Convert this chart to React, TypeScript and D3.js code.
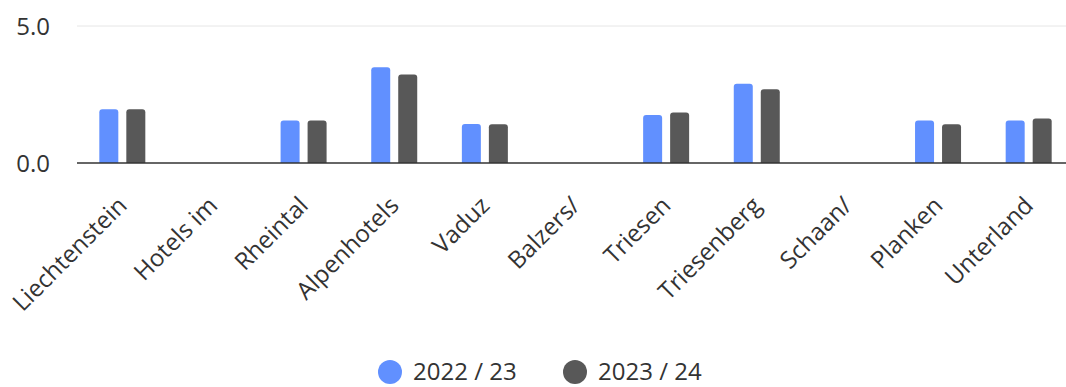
import React from "react";
import * as d3 from "d3";

const categories = [
  "Liechtenstein", "Hotels im", "Rheintal", "Alpenhotels", "Vaduz", "Balzers/",
  "Triesen", "Triesenberg", "Schaan/", "Planken", "Unterland",
];
const series2223 = [1.96, null, 1.55, 3.49, 1.42, null, 1.75, 2.89, null, 1.55, 1.55];
const series2324 = [1.96, null, 1.55, 3.23, 1.41, null, 1.84, 2.69, null, 1.41, 1.62];
const seriesNames = ["2022 / 23", "2023 / 24"];
const yTicks = [0, 5];

const colors = ["#6190ff", "#585858"];
const font = "'Open Sans', 'Noto Sans', sans-serif";

const W = 1066;
const H = 387;

// rounded top bar path
function barPath(x: number, y: number, w: number, h: number, r: number) {
  const rr = Math.min(r, h, w / 2);
  return `M${x},${y + h}V${y + rr}Q${x},${y} ${x + rr},${y}H${x + w - rr}Q${x + w},${y} ${x + w},${y + rr}V${y + h}Z`;
}

export default function App() {
  const x = d3.scaleBand().domain(categories).range([77, 1074]);
  const y = d3.scaleLinear().domain([0, 5]).range([163, 26]);
  const series = [series2223, series2324];
  const barW = 19;
  const gap = 8;

  return (
    <svg width={W} height={H} style={{ display: "block", position: "absolute", left: 0, top: 0, overflow: "hidden" }}>
      <rect width={W} height={H} fill="#fff" />
      <line x1={77} x2={W} y1={y(5)} y2={y(5)} stroke="#e6e6e6" strokeWidth={1} />
      {yTicks.map((t) => (
        <text key={t} x={50} y={y(t)} dy="0.36em" textAnchor="end" fontFamily={font} fontSize={24} fill="#333">
          {t.toFixed(1)}
        </text>
      ))}
      {categories.map((c, i) => {
        const cx = x(c)! + x.bandwidth() / 2;
        return (
          <g key={c}>
            {series.map((s, k) => {
              const v = s[i];
              if (v == null) return null;
              const bx = cx - gap / 2 - barW + k * (barW + gap);
              return <path key={k} d={barPath(bx, y(v), barW, y(0) - y(v), 3)} fill={colors[k]} />;
            })}
            <text
              transform={`translate(${cx + 6},${y(0) + 44}) rotate(-45)`}
              textAnchor="end"
              fontFamily={font}
              fontSize={24}
              fill="#333"
            >
              {c}
            </text>
          </g>
        );
      })}
      <line x1={77} x2={W} y1={y(0)} y2={y(0)} stroke="#333" strokeWidth={1.5} />
      {seriesNames.map((n, k) => (
        <g key={n} transform={`translate(${k === 0 ? 390 : 575},372)`}>
          <circle r={12} fill={colors[k]} />
          <text x={23} y={7.5} fontFamily={font} fontSize={24} fill="#333">
            {n}
          </text>
        </g>
      ))}
    </svg>
  );
}
